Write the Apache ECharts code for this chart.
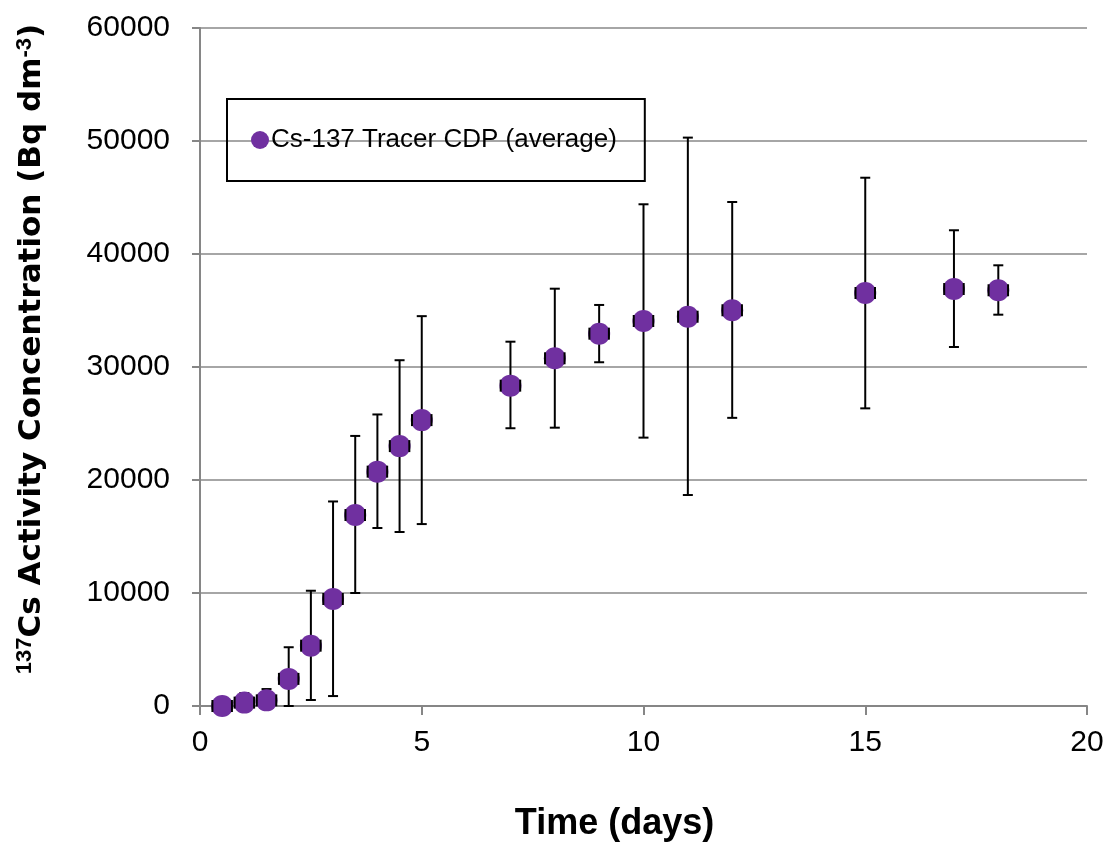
<!DOCTYPE html>
<html>
<head>
<meta charset="utf-8">
<script src="https://cdn.jsdelivr.net/npm/echarts@6/dist/echarts.min.js"></script>
<style>
  html, body { margin: 0; padding: 0; background: #fff; }
  #chart { width: 1111px; height: 848px; }
</style>
</head>
<body>
<div id="chart"></div>
<script>
  // time (days) and average activity with error bar ends
  const days = [0.5, 1, 1.5, 2, 2.5, 3, 3.5, 4, 4.5, 5, 7, 8, 9, 10, 11, 12, 15, 17, 18];
  const activity = [0, 300, 500, 2400, 5340, 9470, 16900, 20740, 23000, 25300, 28350, 30770, 32950, 34070, 34450, 35020, 36550, 36900, 36790];
  const errLow = [0, 0, 0, 0, 530, 880, 10000, 15750, 15400, 16100, 24580, 24630, 30420, 23750, 18670, 25500, 26340, 31770, 34630];
  const errHigh = [0, 1150, 1500, 5200, 10200, 18100, 23900, 25800, 30600, 34500, 32240, 36930, 35490, 44400, 50300, 44600, 46750, 42100, 39000];
  const xErr = 0.22; // horizontal error half width, days

  const yTicks = [0, 10000, 20000, 30000, 40000, 50000, 60000];
  const xTicks = [0, 5, 10, 15, 20];

  const font = "Liberation Sans, Arial, sans-serif";
  const titleFont = "DejaVu Sans, Liberation Sans, sans-serif";
  const chart = echarts.init(document.getElementById("chart"));

  const points = days.map((d, i) => [d, activity[i]]);
  const errData = days.map((d, i) => [d, activity[i], errLow[i], errHigh[i]]);
  const style = { stroke: "#000", lineWidth: 2 };
  const cap = 5;

  // vertical bars, drawn under the markers
  const renderVErr = (params, api) => {
    const x = api.value(0);
    const lo = api.coord([x, api.value(2)]);
    const hi = api.coord([x, api.value(3)]);
    if (hi[1] >= lo[1] - 1) return { type: "group", children: [] };
    return {
      type: "group",
      children: [
        { type: "line", shape: { x1: lo[0], y1: lo[1], x2: hi[0], y2: hi[1] }, style },
        { type: "line", shape: { x1: hi[0] - cap, y1: hi[1], x2: hi[0] + cap, y2: hi[1] }, style },
        { type: "line", shape: { x1: lo[0] - cap, y1: lo[1], x2: lo[0] + cap, y2: lo[1] }, style }
      ]
    };
  };

  // horizontal caps, drawn over the marker edges
  const renderHErr = (params, api) => {
    const x = api.value(0);
    const y = api.value(1);
    const left = api.coord([x - xErr, y]);
    const right = api.coord([x + xErr, y]);
    return {
      type: "group",
      children: [
        { type: "line", shape: { x1: left[0], y1: left[1] - 6, x2: left[0], y2: left[1] + 6 }, style },
        { type: "line", shape: { x1: right[0], y1: right[1] - 6, x2: right[0], y2: right[1] + 6 }, style }
      ]
    };
  };

  const option = {
    animation: false,
    textStyle: { fontFamily: font },
    grid: { left: 200, right: 24, top: 28, bottom: 142, containLabel: false, outerBoundsMode: "none" },
    legend: {
      left: 227,
      top: 99,
      orient: "vertical",
      borderColor: "#000",
      borderWidth: 2,
      borderRadius: 0,
      padding: [28, 28, 28, 24],
      itemWidth: 18,
      itemHeight: 18,
      textStyle: { fontSize: 26, color: "#000", fontFamily: font, padding: [0, 0, 0, -3] },
      data: [{ name: "Cs-137 Tracer CDP (average)", icon: "circle" }]
    },
    xAxis: {
      type: "value",
      min: xTicks[0],
      max: xTicks[xTicks.length - 1],
      interval: 5,
      name: "Time (days)",
      nameLocation: "middle",
      nameGap: 100,
      nameTextStyle: { fontSize: 36, fontWeight: "bold", color: "#000", fontFamily: font, padding: [0, 58, 0, 0] },
      axisLine: { lineStyle: { color: "#868686", width: 2 } },
      axisTick: { show: true, inside: false, length: 9, lineStyle: { color: "#868686", width: 2 } },
      axisLabel: { fontSize: 30, color: "#000", margin: 22 },
      splitLine: { show: false }
    },
    yAxis: {
      type: "value",
      min: yTicks[0],
      max: yTicks[yTicks.length - 1],
      interval: 10000,
      name: "{sup|137}{b|Cs Activity Concentration (Bq dm}{sup|-3}{b|)}",
      nameLocation: "middle",
      nameGap: 150,
      nameRotate: 90,
      nameTextStyle: {
        padding: [0, 0, 0, 36],
        rich: {
          b: { fontSize: 31, fontWeight: "bold", color: "#000", fontFamily: titleFont },
          sup: { fontSize: 22, fontWeight: "bold", color: "#000", fontFamily: font, padding: [0, 0, 14, 0] }
        }
      },
      axisLine: { show: true, lineStyle: { color: "#868686", width: 2 } },
      axisTick: { show: true, inside: false, length: 8, lineStyle: { color: "#868686", width: 2 } },
      axisLabel: { fontSize: 30, color: "#000", margin: 30, formatter: v => String(v) },
      splitLine: { show: true, lineStyle: { color: "#a6a6a6", width: 2 } }
    },
    series: [
      {
        name: "yErr",
        type: "custom",
        renderItem: renderVErr,
        data: errData,
        z: 2,
        silent: true
      },
      {
        name: "Cs-137 Tracer CDP (average)",
        type: "scatter",
        data: points,
        symbol: "circle",
        symbolSize: 22,
        itemStyle: { color: "#7030a0", opacity: 1 },
        z: 3
      },
      {
        name: "xErr",
        type: "custom",
        renderItem: renderHErr,
        data: errData,
        z: 4,
        silent: true
      }
    ]
  };

  chart.setOption(option);
  window.addEventListener("resize", () => chart.resize());
</script>
</body>
</html>
